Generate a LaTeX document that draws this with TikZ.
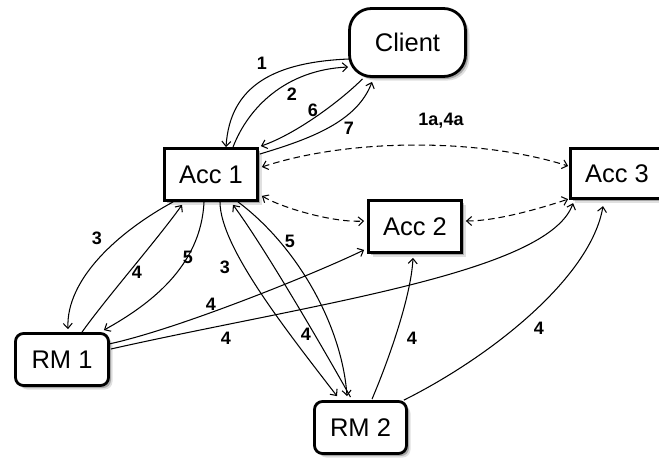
\documentclass[tikz,border=0pt]{standalone}
\usepackage{fontspec}
\setmainfont{Liberation Sans}
\usetikzlibrary{calc,arrows.meta,shadows}
\tikzset{
  shd/.style={drop shadow={shadow xshift=4pt,shadow yshift=-4pt,fill=black,opacity=0.12},
              drop shadow={shadow xshift=2.5pt,shadow yshift=-2.5pt,fill=black,opacity=0.25}},
  box/.style={draw, line width=2.8pt, fill=white, inner sep=0pt, minimum width=93pt,
              minimum height=52pt, font=\fontsize{25.5}{30}\selectfont, shd},
  rbox/.style={box, rounded corners=8pt},
  conn/.style={line width=1.05pt, -{Straight Barb[length=5pt,width=9pt]}},
  dconn/.style={line width=1.05pt, dash pattern=on 6.5pt off 4pt,
              {Straight Barb[length=5pt,width=9pt]}-{Straight Barb[length=5pt,width=9pt]}},
  lab/.style={font=\bfseries\fontsize{18}{21}\selectfont, inner sep=0pt}
}
\begin{document}
\begin{tikzpicture}[x=1pt,y=-1pt]
\useasboundingbox (0,0) rectangle (659,458);
% nodes
\node[box, rounded corners=22pt, minimum width=116pt, minimum height=68pt] (client) at (407.5,42.5) {Client};
\node[box] (acc1) at (211,174.5) {Acc 1};
\node[box] (acc2) at (415,226.5) {Acc 2};
\node[box, minimum height=50.5pt] (acc3) at (617,173.5) {Acc 3};
\node[rbox] (rm1) at (62,359.5) {RM 1};
\node[rbox, minimum width=92pt] (rm2) at (360.5,427.5) {RM 2};
% client <-> acc1
\draw[conn] ($(client.west)+(1,16.5)$) .. controls +(-74,3) and +(4,-62) .. ($(acc1.north)+(15,0)$);
\draw[conn] ($(acc1.north)+(22,0)$) .. controls +(15,-39) and +(-63,3) .. ($(client.west)+(0,24.5)$);
\draw[conn] ($(client.south)+(-45,1)$) .. controls +(-22,22) and +(35,-12) .. ($(acc1.north east)+(2,-1)$);
\draw[conn] ($(acc1.east)+(1,-20.5)$) .. controls +(50,-15) and +(-15,40) .. ($(client.south)+(-35.5,4)$);
% dashed
\draw[dconn] ($(acc1.east)+(3,-7.5)$) .. controls +(88,-29) and +(-88,-28) .. ($(acc3.west)+(-1,-7.5)$);
\draw[dconn] ($(acc1.south east)+(3,-6)$) .. controls +(20,12) and +(-30,2) .. ($(acc2.west)+(-3,-5.5)$);
\draw[dconn] ($(acc2.east)+(3,-5.5)$) .. controls +(30,0) and +(-30,10) .. ($(acc3.south west)+(-1,-1)$);
% acc1 <-> rm1
\draw[conn] ($(acc1.south west)+(10,0)$) .. controls +(-55,30) and +(-2,-50) .. ($(rm1.north)+(6,-3)$);
\draw[conn] ($(rm1.north)+(20,0)$) .. controls +(25,-35) and +(-25,35) .. ($(acc1.south)+(-29,3)$);
\draw[conn] ($(acc1.south)+(-7,0)$) .. controls +(-3,65) and +(45,-25) .. ($(rm1.north east)+(-6,-2)$);
% acc1 <-> rm2
\draw[conn] ($(acc1.south)+(9,0)$) .. controls +(0,45) and +(-50,-65) .. ($(rm2.north)+(-23.5,-4)$);
\draw[conn] ($(rm2.north)+(-10,-3)$) .. controls +(-25,-45) and +(30,40) .. ($(acc1.south)+(22,3)$);
\draw[conn] ($(acc1.south)+(27,0)$) .. controls +(60,45) and +(-5,-70) .. ($(rm2.north)+(-13.5,-4)$);
% rm1 -> acc2, acc3
\draw[conn] ($(rm1.east)+(-1,-15.5)$) .. controls +(70,-15) and +(-45,22) .. ($(acc2.south west)+(-3,-4)$);
\draw[conn] ($(rm1.east)+(1,-10.5)$) .. controls +(200,-45) and +(-25,70) .. ($(acc3.south west)+(4,3)$);
% rm2 -> acc2, acc3
\draw[conn] ($(rm2.north)+(11.5,-1)$) .. controls +(15,-35) and +(-2,40) .. ($(acc2.south)+(-2,4)$);
\draw[conn] ($(rm2.north east)+(-4,0)$) .. controls +(90,-45) and +(-12,70) .. ($(acc3.south)+(-14,6)$);
% labels
\node[lab] (l1) at (262,63) {1};
\node[lab] (l2) at (292,94) {2};
\node[lab] (l6) at (313,110) {6};
\node[lab] (l7) at (349,128) {7};
\node[lab] (l1a) at (441,121) {1a,4a};
\node[lab] (l3a) at (97,238) {3};
\node[lab] (l4a) at (137,272) {4};
\node[lab] (l5a) at (188,257) {5};
\node[lab] (l3b) at (225,267) {3};
\node[lab] (l5b) at (290,241) {5};
\node[lab] (l4b) at (306,334) {4};
\node[lab] (l4c) at (211,304) {4};
\node[lab] (l4d) at (226,338) {4};
\node[lab] (l4e) at (412,338) {4};
\node[lab] (l4f) at (539,328) {4};
\end{tikzpicture}
\end{document}
